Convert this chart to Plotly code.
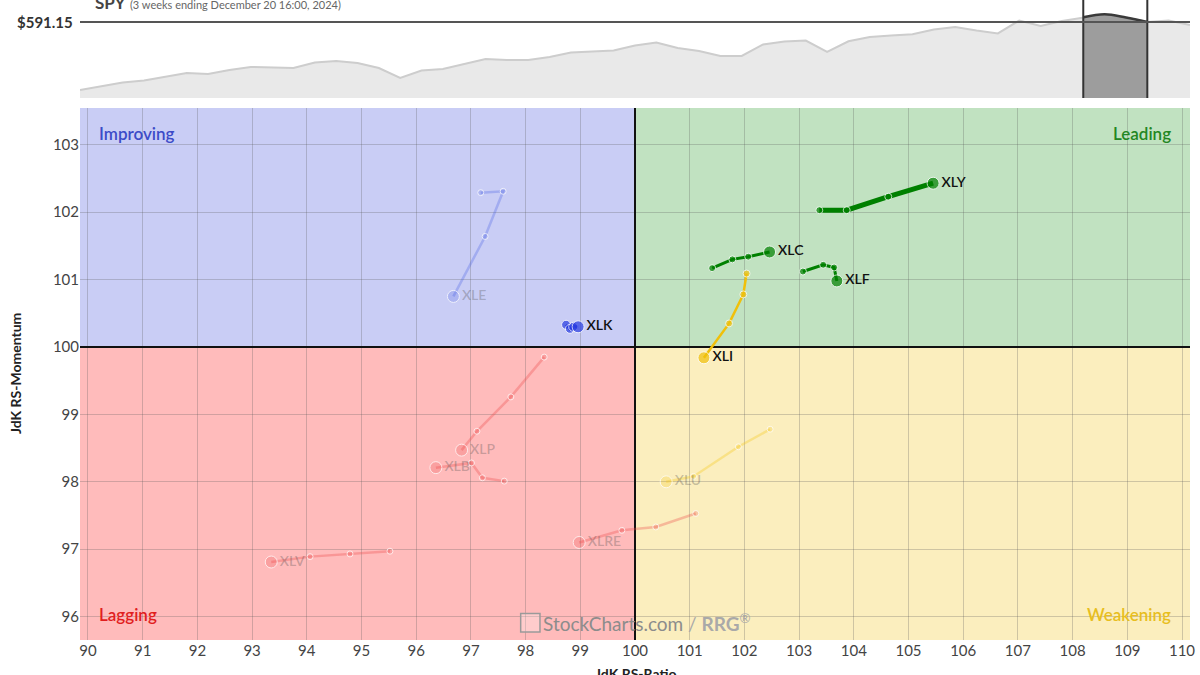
import plotly.graph_objects as go

# ---------------- data ----------------
# Relative Rotation Graph tails (oldest -> newest, last point = head)
xly_ratio = [103.37, 103.87, 104.63, 105.45]
xly_mom = [102.03, 102.03, 102.23, 102.43]
xlc_ratio = [101.41, 101.78, 102.07, 102.46]
xlc_mom = [101.17, 101.30, 101.34, 101.41]
xlf_ratio = [103.07, 103.44, 103.64, 103.69]
xlf_mom = [101.12, 101.22, 101.18, 100.98]
xli_ratio = [102.04, 101.98, 101.72, 101.26]
xli_mom = [101.09, 100.78, 100.35, 99.84]
xlk_ratio = [98.74, 98.81, 98.87, 98.96]
xlk_mom = [100.33, 100.27, 100.30, 100.30]
xle_ratio = [97.18, 97.59, 97.26, 96.68]
xle_mom = [102.29, 102.31, 101.64, 100.75]
xlp_ratio = [98.34, 97.73, 97.11, 96.83]
xlp_mom = [99.85, 99.26, 98.75, 98.47]
xlb_ratio = [97.61, 97.21, 97.01, 96.36]
xlb_mom = [98.01, 98.06, 98.28, 98.21]
xlre_ratio = [101.11, 100.38, 99.76, 98.98]
xlre_mom = [97.53, 97.33, 97.28, 97.10]
xlu_ratio = [102.47, 101.89, 101.07, 100.57]
xlu_mom = [98.78, 98.52, 98.08, 98.00]
xlv_ratio = [95.52, 94.79, 94.06, 93.35]
xlv_mom = [96.97, 96.93, 96.89, 96.81]

ratio_ticks = list(range(90, 111))
momentum_ticks = list(range(96, 104))

# SPY weekly closes for the mini chart
spy_prices = [455.2, 463.2, 470.2, 474.2, 481.2, 489.2, 487.2, 495.2, 501.2, 500.2,
              499.2, 510.2, 513.2, 509.2, 499.2, 479.2, 494.2, 497.2, 507.2, 517.2,
              515.2, 515.2, 521.2, 530.2, 532.2, 534.2, 544.2, 550.2, 539.2, 533.2,
              523.2, 523.2, 546.2, 552.2, 554.0, 531.2, 552.6, 561.2, 564.2, 566.8,
              576.2, 581.2, 574.2, 568.2, 594.2, 583.2, 593.2, 600.6, 606.6, 600.2,
              591.15, 594.2, 585.2]
spy_weeks = list(range(len(spy_prices)))
tail_start, tail_end = 47, 50
last_close = 591.15

FONT = "Lato, 'Open Sans', sans-serif"

GREEN = "rgb(0,128,0)"
GOLD = "rgb(240,192,10)"
BLUE = "rgb(40,60,225)"
F_BLUE = "rgba(60,85,225,0.28)"
F_RED = "rgba(235,70,70,0.32)"
F_GOLD = "rgba(245,200,30,0.35)"
F_TXT = "rgba(70,70,70,0.30)"

tails = [
    ("XLV", xlv_ratio, xlv_mom, F_RED, 2.5, F_TXT, 6, 12),
    ("XLRE", xlre_ratio, xlre_mom, F_RED, 2.5, F_TXT, 6, 12),
    ("XLU", xlu_ratio, xlu_mom, F_GOLD, 2.5, F_TXT, 6, 12),
    ("XLB", xlb_ratio, xlb_mom, F_RED, 2.5, F_TXT, 6, 12),
    ("XLP", xlp_ratio, xlp_mom, F_RED, 2.5, F_TXT, 6, 12),
    ("XLE", xle_ratio, xle_mom, F_BLUE, 2.5, F_TXT, 6, 12),
    ("XLK", xlk_ratio, xlk_mom, BLUE, 3, "#111", 9, 12),
    ("XLI", xli_ratio, xli_mom, GOLD, 2.5, "#111", 7, 12),
    ("XLF", xlf_ratio, xlf_mom, GREEN, 3, "#111", 7, 12),
    ("XLC", xlc_ratio, xlc_mom, GREEN, 3, "#111", 7, 12),
    ("XLY", xly_ratio, xly_mom, GREEN, 5, "#111", 7, 12),
]

fig = go.Figure()

# ---------- mini SPY chart ----------
fig.add_trace(go.Scatter(
    x=spy_weeks, y=spy_prices, xaxis="x2", yaxis="y2", mode="lines",
    line=dict(color="#cdcdcd", width=2), fill="tozeroy", fillcolor="#e9e9e9",
    hoverinfo="skip", showlegend=False))
fig.add_trace(go.Scatter(
    x=spy_weeks[tail_start:tail_end + 1], y=spy_prices[tail_start:tail_end + 1],
    xaxis="x2", yaxis="y2", mode="lines",
    line=dict(color="#3a3a3a", width=2.5, shape="spline"),
    fill="tozeroy", fillcolor="#9d9d9d", hoverinfo="skip", showlegend=False))

# ---------- RRG tails ----------
for name, xs, ys, col, w, tcol, msz, hsz in tails:
    n = len(xs)
    fig.add_trace(go.Scatter(
        x=xs, y=ys, mode="lines+markers",
        line=dict(color=col, width=w),
        marker=dict(color=col, size=[msz] * (n - 1) + [hsz]),
        hoverinfo="skip", showlegend=False))
    fig.add_trace(go.Scatter(
        x=[xs[-1]], y=[ys[-1]], mode="markers+text", text=[name], textposition="middle right",
        marker=dict(size=hsz, opacity=0),
        textfont=dict(family=FONT, size=14, color=tcol, weight=600),
        cliponaxis=False, hoverinfo="skip", showlegend=False))

xmin, xmax = 89.854, 110.146
ymin, ymax = 95.653, 103.546

shapes = [
    dict(type="rect", xref="x", yref="y", x0=xmin, x1=100, y0=100, y1=ymax,
         fillcolor="rgb(201,205,245)", line_width=0, layer="below"),
    dict(type="rect", xref="x", yref="y", x0=100, x1=xmax, y0=100, y1=ymax,
         fillcolor="rgb(193,226,193)", line_width=0, layer="below"),
    dict(type="rect", xref="x", yref="y", x0=xmin, x1=100, y0=ymin, y1=100,
         fillcolor="rgb(255,187,187)", line_width=0, layer="below"),
    dict(type="rect", xref="x", yref="y", x0=100, x1=xmax, y0=ymin, y1=100,
         fillcolor="rgb(251,238,190)", line_width=0, layer="below"),
    dict(type="line", xref="x", yref="y", x0=100, x1=100, y0=ymin, y1=ymax,
         line=dict(color="#111", width=2), layer="between"),
    dict(type="line", xref="x", yref="y", x0=xmin, x1=xmax, y0=100, y1=100,
         line=dict(color="#111", width=2), layer="between"),
    # watermark icon
    dict(type="rect", xref="x domain", yref="y domain", x0=0.397, x1=0.4144, y0=0.015, y1=0.05,
         line=dict(color="#9a9a9a", width=1.5), fillcolor="rgba(255,255,255,0.25)", layer="above"),
    # mini chart markers
    dict(type="line", xref="x2", yref="y2 domain", x0=tail_start, x1=tail_start, y0=0, y1=1,
         line=dict(color="#333", width=2), layer="above"),
    dict(type="line", xref="x2", yref="y2 domain", x0=tail_end, x1=tail_end, y0=0, y1=1,
         line=dict(color="#333", width=2), layer="above"),
    dict(type="line", xref="x2 domain", yref="y2", x0=0, x1=1, y0=last_close, y1=last_close,
         line=dict(color="#555", width=2), layer="above"),
]

annotations = [
    dict(text="Improving", xref="x domain", yref="y domain", x=0.0153, y=0.953,
         xanchor="left", yanchor="middle", showarrow=False,
         font=dict(family=FONT, size=17, color="rgb(60,75,200)", weight=600)),
    dict(text="Leading", xref="x domain", yref="y domain", x=0.9847, y=0.953,
         xanchor="right", yanchor="middle", showarrow=False,
         font=dict(family=FONT, size=17, color="rgb(35,135,35)", weight=600)),
    dict(text="Lagging", xref="x domain", yref="y domain", x=0.0153, y=0.047,
         xanchor="left", yanchor="middle", showarrow=False,
         font=dict(family=FONT, size=17, color="rgb(225,30,30)", weight=600)),
    dict(text="Weakening", xref="x domain", yref="y domain", x=0.9847, y=0.047,
         xanchor="right", yanchor="middle", showarrow=False,
         font=dict(family=FONT, size=17, color="rgb(232,190,30)", weight=600)),
    dict(text="StockCharts.com<span style='color:#a9a9a9'> / <b>RRG</b><sup>®</sup></span>",
         xref="x domain", yref="y domain", x=0.4153, y=0.032,
         xanchor="left", yanchor="middle", showarrow=False,
         font=dict(family=FONT, size=19, color="#8c8c8c")),
    dict(text="JdK RS-Momentum", xref="paper", yref="y domain", x=-0.0585, y=0.5,
         textangle=-90, xanchor="center", yanchor="middle", showarrow=False,
         font=dict(family=FONT, size=14, color="#222", weight="bold")),
    dict(text="JdK RS-Ratio", xref="paper", yref="paper", x=0.5, y=-0.053,
         xanchor="center", yanchor="middle", showarrow=False,
         font=dict(family=FONT, size=14, color="#222", weight="bold")),
    dict(text="$591.15", xref="paper", yref="y2", x=-0.0045, y=last_close,
         xanchor="right", yanchor="middle", showarrow=False,
         font=dict(family=FONT, size=15, color="#333", weight="bold")),
    dict(text="<b>SPY</b> <span style='font-size:11px;color:#666'>(3 weeks ending December 20 16:00, 2024)</span>",
         xref="paper", yref="paper", x=0.0117, y=1.0, yshift=-2,
         xanchor="left", yanchor="middle", showarrow=False,
         font=dict(family=FONT, size=17, color="#444")),
]

fig.update_layout(
    width=1200, height=675,
    margin=dict(l=80, r=10, t=0, b=35, autoexpand=False),
    paper_bgcolor="white", plot_bgcolor="white",
    font=dict(family=FONT, size=14, color="#444"),
    xaxis=dict(range=[xmin, xmax], tickvals=ratio_ticks, showgrid=True,
               gridcolor="rgba(90,90,90,0.28)", gridwidth=1, zeroline=False,
               showline=False, ticks="", domain=[0, 1], anchor="y", automargin=False,
               tickfont=dict(family=FONT, size=15, color="#444")),
    yaxis=dict(range=[ymin, ymax], tickvals=momentum_ticks, showgrid=True,
               gridcolor="rgba(90,90,90,0.28)", gridwidth=1, zeroline=False,
               showline=False, ticks="", domain=[0, 0.83125], anchor="x", automargin=False,
               tickfont=dict(family=FONT, size=15, color="#444")),
    xaxis2=dict(range=[0, len(spy_prices) - 1], visible=False, domain=[0, 1], anchor="y2",
                automargin=False),
    yaxis2=dict(range=[439.15, 635.15], visible=False, domain=[0.846875, 1], anchor="x2",
                automargin=False),
    shapes=shapes, annotations=annotations, showlegend=False,
)

fig.write_html("out.html", config={"displayModeBar": False},
               post_script="document.body.style.margin='0';")
